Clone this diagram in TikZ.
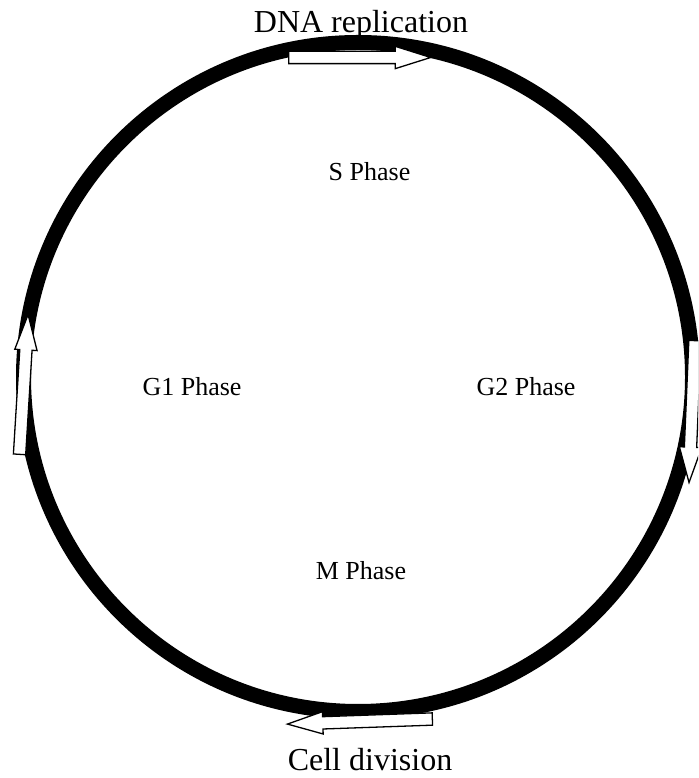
\documentclass[tikz,border=0pt]{standalone}
\usepackage{fontspec}
\setmainfont{Liberation Serif}
\usetikzlibrary{shapes.arrows}

\begin{document}
\begin{tikzpicture}[x=1pt, y=1pt,
  ring/.style={circle, draw=black, line width=15pt,
    minimum size=669pt, inner sep=0pt},
  cyclearrow/.style={single arrow, draw=black, fill=white,
    line width=1.3pt, inner xsep=0pt, inner ysep=5.5pt,
    single arrow head extend=5pt, single arrow tip angle=35,
    minimum height=142pt, anchor=tail},
  phase/.style={font=\fontsize{26}{30}\selectfont, anchor=base},
  event/.style={font=\fontsize{32}{38}\selectfont, anchor=base},
]
\clip (0, 0) rectangle (698, 778);

\node[ring] (cyc) at (358, 401) {};

\node[cyclearrow] (repl) at (288, 720.5) {};
\node[cyclearrow, rotate=267.6] (g2arr) at (695, 438) {};
\node[cyclearrow, rotate=182, minimum height=145pt] (div) at (433, 59) {};
\node[cyclearrow, rotate=86.5, minimum height=140pt] (g1arr) at (19.5, 323) {};

\node[event] (dnarep) at (361, 745) {DNA replication};
\node[event] (celldiv) at (370, 8) {Cell division};

\node[phase] (sph) at (369.5, 597) {S Phase};
\node[phase] (g1ph) at (192, 382.5) {G1 Phase};
\node[phase] (g2ph) at (526, 382.5) {G2 Phase};
\node[phase] (mph) at (361, 198) {M Phase};

\end{tikzpicture}
\end{document}
